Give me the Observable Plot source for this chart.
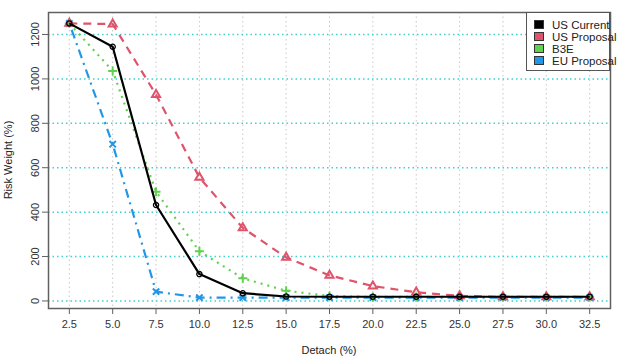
<!DOCTYPE html>
<html><head><meta charset="utf-8">
<script src="https://cdn.jsdelivr.net/npm/d3@7"></script>
<script src="https://cdn.jsdelivr.net/npm/@observablehq/plot@0.6"></script>
<style>
body{margin:0;background:#fff;font-family:"Liberation Sans",Arial,sans-serif}
#wrap{position:relative;width:635px;height:359px}
#legend{position:absolute;left:526px;top:12px;width:84px;height:59px;border:1px solid #555;background:#fff;box-sizing:border-box;font-size:11.5px;color:#222}
#legend .row{position:absolute;left:7px;height:12px;line-height:12px;white-space:nowrap}
#legend .sw{display:inline-block;width:8px;height:7px;border:1px solid #333;margin-right:8px;vertical-align:0px}
</style>
</head><body><div id="wrap"></div>
<script>
const detach = [2.5, 5, 7.5, 10, 12.5, 15, 17.5, 20, 22.5, 25, 27.5, 30, 32.5];
const usCurrent  = [1250, 1145, 432, 121, 35, 20, 19, 19, 19, 19, 19, 19, 19];
const usProposal = [1250, 1247, 929, 556, 329, 196, 115, 67, 39, 23, 18, 18, 18];
const b3e        = [1250, 1036, 492, 224, 102, 46, 22, 18, 18, 18, 18, 18, 18];
const euProposal = [1250, 706, 42, 15, 15, 15, 15, 15, 15, 15, 15, 15, 15];
const seriesNames = ["US Current", "US Proposal", "B3E", "EU Proposal"];
const seriesColors = ["#000000", "#DF536B", "#61D04F", "#2297E6"];
const seriesDash = [null, "8,6", "2,5", "2,5,9,5"];
const seriesSymbols = ["circle", "triangle", "plus", "times"];
const xTicks = detach;
const yTicks = [0, 200, 400, 600, 800, 1000, 1200];

const allSeries = [usCurrent, usProposal, b3e, euProposal];
const data = allSeries.flatMap((vals, i) => vals.map((v, j) => ({x: detach[j], y: v, s: seriesNames[i], i})));

const lineMarks = [];
[3, 2, 1, 0].forEach(i => {
  const d = data.filter(r => r.i === i);
  lineMarks.push(Plot.line(d, {x: "x", y: "y", stroke: seriesColors[i], strokeWidth: 2.2, strokeDasharray: seriesDash[i], strokeLinecap: "butt"}));
  lineMarks.push(Plot.dot(d, {x: "x", y: "y", stroke: seriesColors[i], symbol: () => seriesSymbols[i], r: i === 0 ? 2.6 : 3, strokeWidth: i === 0 ? 1.3 : 2, fill: "none"}));
});

const chart = Plot.plot({
  width: 635, height: 359,
  marginLeft: 48, marginRight: 25, marginTop: 12, marginBottom: 51,
  style: {fontFamily: "'Liberation Sans', Arial, sans-serif", fontSize: "11px", color: "#333", background: "#fff"},
  x: {domain: [1.3, 33.7], ticks: xTicks, tickFormat: d3.format(".1f"), label: null},
  y: {domain: [-34, 1299], ticks: yTicks, tickFormat: d3.format("d"), label: null},
  marks: [
    Plot.ruleX(xTicks, {stroke: "#c8c8c8", strokeDasharray: "1.5,3", strokeWidth: 1}),
    Plot.ruleY(yTicks, {stroke: "#3fd0d0", strokeDasharray: "1.5,3", strokeWidth: 1.5}),
    ...lineMarks,
    Plot.frame({stroke: "#606060", strokeWidth: 1.5}),
    Plot.axisX({ticks: xTicks, tickFormat: d3.format(".1f"), tickSize: 6, tickPadding: 6, stroke: "#606060", label: null}),
    Plot.axisY({ticks: yTicks, tickFormat: d3.format("d"), tickSize: 6, tickRotate: -90, tickPadding: 4, stroke: "#606060", label: null})
  ]
});
const wrap = document.getElementById("wrap");
wrap.appendChild(chart);
const svg = d3.select(chart);
svg.append("text").attr("x", 329).attr("y", 354).attr("text-anchor", "middle")
  .attr("font-size", 11).attr("fill", "#222").text("Detach (%)");
svg.append("text").attr("transform", "translate(12,160) rotate(-90)").attr("text-anchor", "middle")
  .attr("font-size", 11).attr("fill", "#222").text("Risk Weight (%)");

const leg = document.createElement("div");
leg.id = "legend";
seriesNames.forEach((n, i) => {
  const row = document.createElement("div");
  row.className = "row";
  row.style.top = (6 + i * 12) + "px";
  row.innerHTML = `<span class="sw" style="background:${seriesColors[i]}"></span>${n}`;
  leg.appendChild(row);
});
wrap.appendChild(leg);
</script>
</body></html>
